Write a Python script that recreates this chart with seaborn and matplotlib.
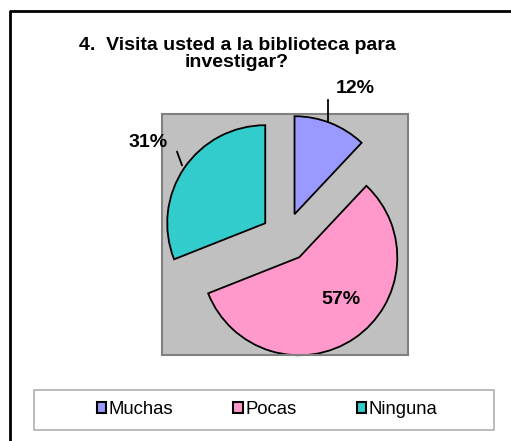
import matplotlib
matplotlib.use("Agg")
import matplotlib.pyplot as plt
import seaborn as sns
from matplotlib.patches import Rectangle
from matplotlib.lines import Line2D

sns.set_style("white")
plt.rcParams['font.family'] = ['Liberation Sans', 'DejaVu Sans']
plt.rcParams['text.color'] = 'black'

categories = ["Muchas", "Pocas", "Ninguna"]
values = [12, 57, 31]
colors = ["#9999FF", "#FF99CC", "#33CCCC"]
title = "4.  Visita usted a la biblioteca para\ninvestigar?"

W, H = 511, 441
fig = plt.figure(figsize=(W / 100, H / 100), dpi=100)

def fx(px):
    return px / W

def fy(py):
    return 1 - py / H

# outer chart border (only left and top visible)
fig.lines.append(Line2D([fx(10), fx(10), 1.2], [-0.2, fy(10.5), fy(10.5)],
                        transform=fig.transFigure, color="black",
                        linewidth=2.0, zorder=0))

# plot area
L, R, T, B = 162, 408, 114, 355
ax = fig.add_axes([fx(L), fy(B), (R - L) / W, (B - T) / H])

cx, cy, rpx = 285.5, 237, 98
wedges, _ = ax.pie(values, colors=colors, startangle=90, counterclock=False,
                   explode=[0.25] * len(values), radius=1.0, frame=True,
                   wedgeprops=dict(edgecolor="black", linewidth=1.3))
ax.set_frame_on(True)
ax.patch.set_visible(True)
ax.set_facecolor("#C0C0C0")
ax.set_xticks([])
ax.set_yticks([])
for s in ax.spines.values():
    s.set_visible(True)
    s.set_edgecolor("#808080")
    s.set_linewidth(1.5)
ax.set_xlim((L - cx) / rpx, (R - cx) / rpx)
ax.set_ylim((cy - B) / rpx, (cy - T) / rpx)
ax.set_aspect("auto")

def d(px, py):
    return ((px - cx) / rpx, (cy - py) / rpx)

labels = [f"{v}%" for v in values]
lab_fmt = dict(fontsize=14, fontweight="bold", color="black",
               ha="center", va="center", annotation_clip=False)
# 12%
ax.annotate("", xy=d(328, 124), xytext=d(328, 97), annotation_clip=False,
            arrowprops=dict(arrowstyle="-", color="black", lw=1.3))
ax.annotate(labels[0], xy=d(355, 88), **lab_fmt)
# 57%
ax.annotate(labels[1], xy=d(341, 299), **lab_fmt)
# 31%
ax.annotate("", xy=d(183, 168), xytext=d(176, 149), annotation_clip=False,
            arrowprops=dict(arrowstyle="-", color="black", lw=1.3))
ax.annotate(labels[2], xy=d(148, 142), **lab_fmt)

# title
fig.text(fx(237), fy(54), title, ha="center", va="center", fontsize=14,
         fontweight="bold", linespacing=1.0, color="black")

# legend box
fig.patches.append(Rectangle((fx(33.5), fy(429.5)), (494 - 33.5) / W, (429.5 - 389.5) / H,
                             transform=fig.transFigure, facecolor="white",
                             edgecolor="#B0B0B0", linewidth=1.2, zorder=1))
leg = fig.legend(wedges, categories, loc="center", ncol=3,
                 bbox_to_anchor=(fx(267), fy(409.5)), frameon=False,
                 fontsize=13.3, handlelength=0.5, handleheight=0.5,
                 handletextpad=0.15, columnspacing=3.25, borderpad=0,
                 labelcolor="black")
for h in leg.legend_handles:
    h.set_edgecolor("black")
    h.set_linewidth(1.5)

fig.savefig("out.png", dpi=100)
